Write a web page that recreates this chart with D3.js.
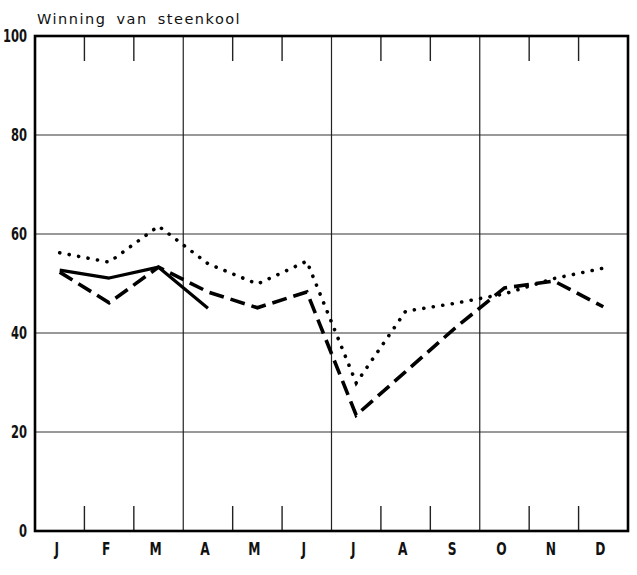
<!DOCTYPE html>
<html>
<head>
<meta charset="utf-8">
<script src="https://cdn.jsdelivr.net/npm/d3@7"></script>
<style>
  body { margin: 0; background: #fff; }
  svg { display: block; }
  .lbl { font-family: "Liberation Sans Narrow", "DejaVu Sans Condensed", sans-serif; font-weight: bold; fill: #111; }
</style>
</head>
<body>
<div id="chart"></div>
<script>
// months along the bottom
const months = ['J', 'F', 'M', 'A', 'M', 'J', 'J', 'A', 'S', 'O', 'N', 'D'];
const yTicks = [0, 20, 40, 60, 80, 100];

// three series (null = no value)
const dotted = [56.2, 54.3, 61.6, 54.0, 49.9, 54.5, 29.9, 44.4, 46.0, 47.9, 51.0, 53.1];
const dashed = [52.3, 46.1, 53.3, 48.3, 45.1, 48.3, 23.4, 32.2, 41.0, 49.1, 50.5, 45.3];
const solid  = [52.7, 51.1, 53.3, 45.0, null, null, null, null, null, null, null, null];

const W = 637, H = 575;
const plotL = 35, plotR = 628, plotT = 36, plotB = 531;

const svg = d3.select('#chart').append('svg')
  .attr('width', W)
  .attr('height', H);

const x = d3.scaleBand().domain(d3.range(12)).range([plotL, plotR]);
const y = d3.scaleLinear().domain([0, 100]).range([plotB, plotT]);

// horizontal grid
svg.append('g').selectAll('line')
  .data(yTicks.filter(v => v > 0 && v < 100))
  .enter().append('line')
  .attr('x1', plotL).attr('x2', plotR)
  .attr('y1', d => y(d)).attr('y2', d => y(d))
  .attr('stroke', '#333').attr('stroke-width', 1);

// quarter lines
svg.append('g').selectAll('line')
  .data([3, 6, 9])
  .enter().append('line')
  .attr('x1', d => x(d)).attr('x2', d => x(d))
  .attr('y1', plotT).attr('y2', plotB)
  .attr('stroke', '#222').attr('stroke-width', 1.2);

// month ticks, top and bottom
const minor = d3.range(1, 12).filter(i => i % 3 !== 0);
svg.append('g').selectAll('line')
  .data(minor)
  .enter().append('line')
  .attr('x1', d => x(d)).attr('x2', d => x(d))
  .attr('y1', plotT).attr('y2', plotT + 25)
  .attr('stroke', '#222').attr('stroke-width', 1.4);
svg.append('g').selectAll('line')
  .data(minor)
  .enter().append('line')
  .attr('x1', d => x(d)).attr('x2', d => x(d))
  .attr('y1', plotB).attr('y2', plotB - 25)
  .attr('stroke', '#222').attr('stroke-width', 1.4);

// frame
svg.append('rect')
  .attr('x', plotL).attr('y', plotT)
  .attr('width', plotR - plotL).attr('height', plotB - plotT)
  .attr('fill', 'none').attr('stroke', '#000').attr('stroke-width', 2.6);

// y labels, squeezed horizontally like the condensed type of the original
svg.append('g').selectAll('text')
  .data(yTicks)
  .enter().append('text')
  .attr('class', 'lbl')
  .attr('transform', d => `translate(27,${y(d) + 6}) scale(0.8,1.05)`)
  .attr('text-anchor', 'end')
  .attr('font-size', 16)
  .text(d => d);

// month labels
svg.append('g').selectAll('text')
  .data(months)
  .enter().append('text')
  .attr('class', 'lbl')
  .attr('transform', (d, i) => `translate(${x(i) + x.bandwidth() / 2 - 3},555) scale(0.85,1.05)`)
  .attr('text-anchor', 'middle')
  .attr('font-size', 16)
  .text(d => d);

// title
svg.append('text')
  .attr('x', 37).attr('y', 24)
  .attr('font-family', '"DejaVu Sans", sans-serif')
  .attr('font-size', 14.5)
  .attr('letter-spacing', 1.5)
  .attr('word-spacing', 4)
  .attr('fill', '#111')
  .text('Winning van steenkool');

const line = d3.line()
  .defined(d => d != null)
  .x((d, i) => x(i) + x.bandwidth() / 2)
  .y(d => y(d));

svg.append('path').datum(dotted)
  .attr('d', line)
  .attr('fill', 'none').attr('stroke', '#000')
  .attr('stroke-width', 3.6)
  .attr('stroke-linecap', 'round')
  .attr('stroke-dasharray', '0.1 9.5');

svg.append('path').datum(dashed)
  .attr('d', line)
  .attr('fill', 'none').attr('stroke', '#000')
  .attr('stroke-width', 3.6)
  .attr('stroke-dasharray', '15 7');

svg.append('path').datum(solid)
  .attr('d', line)
  .attr('fill', 'none').attr('stroke', '#000')
  .attr('stroke-width', 3.2)
  .attr('stroke-linejoin', 'round');
</script>
</body>
</html>
